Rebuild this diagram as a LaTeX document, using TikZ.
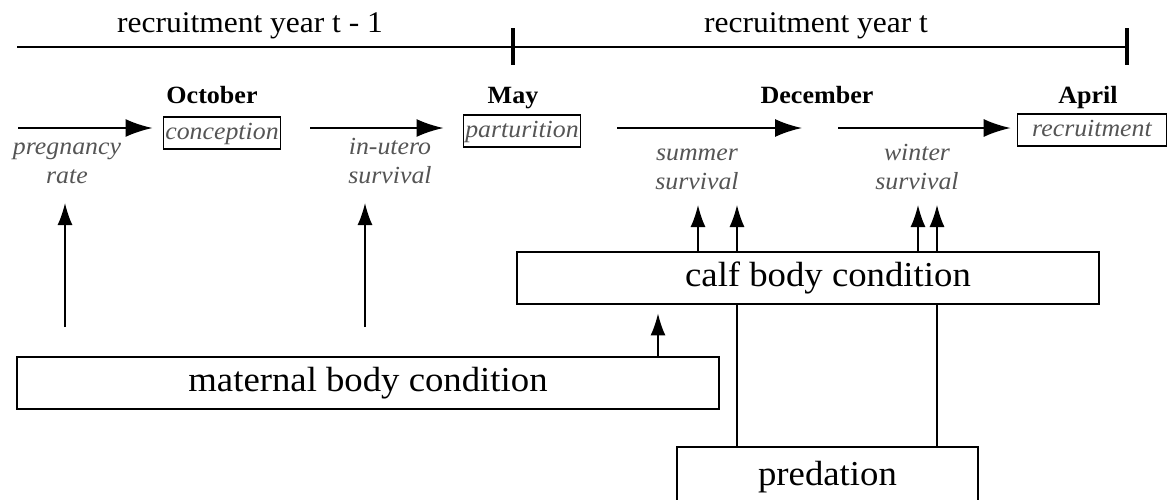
\documentclass[tikz,border=0pt]{standalone}
\usepackage{fontspec}
\setmainfont{Liberation Serif}[FakeStretch=1.05]
\usepackage{xcolor}
\usepackage{tikz}
\usetikzlibrary{positioning,arrows.meta}
\definecolor{labelgray}{RGB}{85,85,85}

\tikzset{
  year/.style={anchor=base, font=\fontsize{30}{35}\selectfont},
  month/.style={anchor=base, font=\fontsize{24.8}{29}\selectfont\bfseries},
  stagebox/.style={draw, line width=1.6pt, minimum height=32pt, inner xsep=2pt, inner ysep=0pt,
    font=\fontsize{24.6}{29}\selectfont\itshape, text=labelgray, text height=17pt, text depth=5pt},
  ratelabel/.style={anchor=base, align=center, font=\fontsize{24.6}{29}\selectfont\itshape, text=labelgray},
  bigbox/.style={draw, line width=2.8pt, fill=white, inner sep=0pt,
    font=\fontsize{35}{40}\selectfont, text height=24pt, text depth=8pt},
  flow/.style={-{Latex[length=27pt,width=18pt]}, line width=2.2pt},
  lift/.style={-{Latex[length=22pt,width=15pt]}, line width=1.6pt},
}

\begin{document}
\begin{tikzpicture}[x=1pt, y=-1pt]
  \useasboundingbox (0,0) rectangle (1173,499);
  \clip (0,0) rectangle (1173,499);
  % Timeline
  \draw[line width=2pt] (17,47) -- (1128,47);
  \foreach \x in {513,1127}{
    \draw[line width=4pt] (\x,28) -- (\x,65);
  }
  \node[year] (prevyear) at (250,32) {recruitment year t - 1};
  \node[year] (curyear) at (816,32) {recruitment year t};
  % Months
  \foreach \n/\x/\m in {oct/212/October, may/513/May, dec/817/December, apr/1088/April}{
    \node[month] (\n) at (\x,103) {\m};
  }
  % Stages
  \node[stagebox] (conception) at (222,133) {conception};
  \node[stagebox] (parturition) at (522,131) {parturition};
  \node[stagebox, minimum width=149pt] (recruitment) at (1092,130) {recruitment};
  % Flow arrows
  \coordinate (pregstart) at (18,128);
  \coordinate (uterostart) at (310,128);
  \coordinate (summerstart) at (617,128);
  \coordinate (summerend) at (802,128);
  \coordinate (winterstart) at (838,128);
  \draw[flow] (pregstart) -- ([xshift=-10pt]pregstart -| conception.west);
  \draw[flow] (uterostart) -- ([xshift=-19pt]uterostart -| parturition.west);
  \draw[flow] (summerstart) -- (summerend);
  \draw[flow] (winterstart) -- ([xshift=-6pt]winterstart -| recruitment.west);
  % Rates
  \node[ratelabel] (pregnancy) at (67,183) {pregnancy\\rate};
  \node[ratelabel] (inutero) at (390,183) {in-utero\\survival};
  \node[ratelabel] (summer) at (697,189) {summer\\survival};
  \node[ratelabel] (winter) at (917,189) {winter\\survival};
  % Lower boxes
  \node[bigbox, minimum width=301pt, minimum height=70pt, text depth=18pt] (predation) at (827.5,482) {predation};
  \foreach \x in {737,937}{
    \draw[lift, line width=1.3pt] (predation.north -| \x,0) -- (\x,205);
  }
  \node[bigbox, minimum width=582pt, minimum height=52pt] (calf) at (808,278) {\hspace*{40pt}calf body condition};
  \foreach \x in {698,918}{
    \draw[lift] (calf.north -| \x,0) -- (\x,205);
  }
  \node[bigbox, minimum width=702pt, minimum height=52pt] (maternal) at (368,383) {maternal body condition};
  \draw[lift] (maternal.north -| 658,0) -- ([yshift=-8pt]calf.south -| 658,0);
  % Maternal effects
  \coordinate (pregfoot) at (65,327);
  \coordinate (uterofoot) at (365,327);
  \draw[lift] (pregfoot) -- (65,203);
  \draw[lift] (uterofoot) -- (365,203);
\end{tikzpicture}
\end{document}
